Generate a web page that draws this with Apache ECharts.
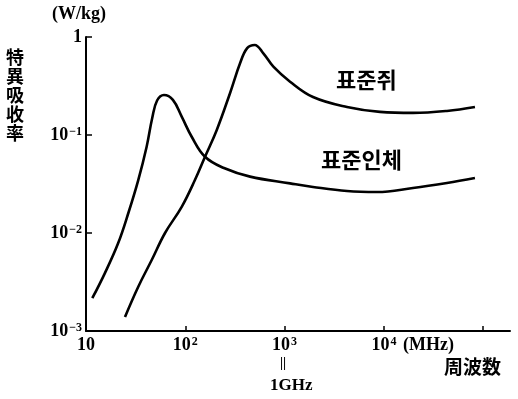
<!DOCTYPE html>
<html><head><meta charset="utf-8">
<script src="https://cdn.jsdelivr.net/npm/echarts@6/dist/echarts.min.js"></script>
<style>html,body{margin:0;padding:0;background:#fff}#c{width:518px;height:399px}</style>
</head><body><div id="c"></div>
<script>
// Data (frequency in MHz, SAR in W/kg)
const freqHuman = [11.57, 15.5, 21.1, 26.7, 33.6, 40.8, 46.5, 52, 61, 75, 92, 116, 158, 245, 449, 1135, 1932, 4250, 8510, 19630, 43150, 82600];
const sarHuman  = [0.00216, 0.0039, 0.0079, 0.016, 0.0347, 0.076, 0.150, 0.225, 0.256, 0.228, 0.154, 0.096, 0.060, 0.046, 0.0376, 0.0321, 0.0295, 0.0268, 0.0262, 0.0288, 0.0324, 0.0364];
const freqRat = [24.7, 33.6, 45.9, 62.5, 92, 125, 158, 207, 282, 356, 420, 500, 611, 771, 1135, 1932, 4250, 9140, 19630, 43150, 82600];
const sarRat  = [0.00139, 0.00283, 0.0053, 0.010, 0.0185, 0.0347, 0.060, 0.112, 0.267, 0.539, 0.770, 0.830, 0.682, 0.498, 0.350, 0.244, 0.193, 0.172, 0.168, 0.176, 0.193];
const xTickValues = [10, 100, 1000, 10000, 100000];
const xTickLabels = ['10', '10{s|2}', '10{s|3}', '10{s|4}', ''];
const yTickValues = [0.001, 0.01, 0.1, 1];
const yTickLabels = ['10{s|−3}', '10{s|−2}', '10{s|−1}', '1'];
const seriesNames = ['표준인체', '표준쥐'];

const serif = 'Liberation Serif';

function pairs(xs, ys) { return xs.map((x, i) => [x, ys[i]]); }
function labelFor(values, labels) {
  return function (v) {
    for (let i = 0; i < values.length; i++) {
      if (Math.abs(Math.log10(v) - Math.log10(values[i])) < 1e-6) return labels[i];
    }
    return '';
  };
}
const labelStyle = {
  fontFamily: serif, fontWeight: 'bold', fontSize: 18, color: '#000',
  rich: { s: { fontFamily: serif, fontWeight: 'bold', fontSize: 12, verticalAlign: 'top', color: '#000', padding: [0, 0, 7, 1] } }
};

const chart = echarts.init(document.getElementById('c'), null, { renderer: 'canvas' });
chart.setOption({
  animation: false,
  backgroundColor: '#fff',
  grid: { left: 86, right: 8, top: 37, bottom: 68, containLabel: false, outerBoundsMode: 'none' },
  xAxis: {
    type: 'log', logBase: 10, min: 10, max: Math.pow(10, 5.27),
    axisLine: { lineStyle: { color: '#000', width: 2 } },
    axisTick: { show: true, inside: true, length: 5, lineStyle: { color: '#000', width: 1.5 }, customValues: xTickValues },
    minorTick: { show: false },
    splitLine: { show: false },
    axisLabel: Object.assign({ margin: 5, customValues: xTickValues, formatter: labelFor(xTickValues, xTickLabels) }, labelStyle)
  },
  yAxis: {
    type: 'log', logBase: 10, min: 0.001, max: 1,
    axisLine: { lineStyle: { color: '#000', width: 2 } },
    axisTick: { show: true, inside: true, length: 6, lineStyle: { color: '#000', width: 1.5 }, customValues: yTickValues },
    minorTick: { show: false },
    splitLine: { show: false },
    axisLabel: Object.assign({ margin: 4, customValues: yTickValues, formatter: labelFor(yTickValues, yTickLabels) }, labelStyle)
  },
  series: [
    { name: seriesNames[0], type: 'line', smooth: 0.4, symbol: 'none', data: pairs(freqHuman, sarHuman),
      lineStyle: { color: '#000', width: 2.6 } },
    { name: seriesNames[1], type: 'line', smooth: 0.4, symbol: 'none', data: pairs(freqRat, sarRat),
      lineStyle: { color: '#000', width: 2.6 } }
  ],
  graphic: [
    { type: 'text', left: 52, top: 5, style: { text: '(W/kg)', font: 'bold 18px "Liberation Serif"', fill: '#000' } },
    { type: 'text', left: 6, top: 48, style: { text: '特\n異\n吸\n收\n率', font: 'bold 18px "Noto Sans CJK JP"', lineHeight: 19, fill: '#000' } },
    { type: 'text', left: 336, top: 69, style: { text: seriesNames[1], font: 'bold 22px "Noto Sans CJK KR"', fill: '#000' } },
    { type: 'text', left: 321, top: 149, style: { text: seriesNames[0], font: 'bold 22px "Noto Sans CJK KR"', fill: '#000' } },
    { type: 'text', left: 403, top: 336, style: { text: '(MHz)', font: 'bold 18px "Liberation Serif"', fill: '#000' } },
    { type: 'text', left: 280, top: 356, style: { text: '||', font: 'bold 14px "Liberation Serif"', fill: '#000' } },
    { type: 'text', left: 270, top: 377, style: { text: '1GHz', font: 'bold 17px "Liberation Serif"', fill: '#000' } },
    { type: 'text', left: 444, top: 357, style: { text: '周波数', font: 'bold 19px "Noto Sans CJK JP"', fill: '#000' } }
  ]
});
</script>
</body></html>
